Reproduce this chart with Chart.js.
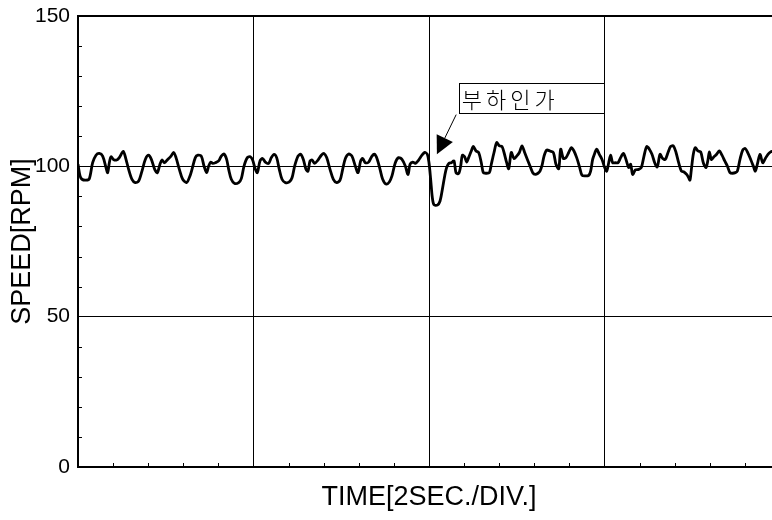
<!DOCTYPE html>
<html>
<head>
<meta charset="utf-8">
<script src="https://cdn.jsdelivr.net/npm/chart.js@4.4.1/dist/chart.umd.min.js"></script>
<style>
  html, body { margin: 0; padding: 0; background: #fff; width: 772px; height: 520px; overflow: hidden; }
  #wrap { width: 800px; height: 520px; }
</style>
</head>
<body>
<div id="wrap"><canvas id="c" width="800" height="520"></canvas></div>
<script>
// Motor speed record: time in seconds, speed in RPM
const timeSec = [
  0.000, 0.023, 0.045, 0.091, 0.129, 0.167, 0.205, 0.243, 0.281, 0.319, 0.338, 0.357, 0.376, 0.403, 0.441, 0.471,
  0.516, 0.547, 0.577, 0.615, 0.653, 0.691, 0.729, 0.767, 0.805, 0.836, 0.874, 0.904, 0.934, 0.957, 0.984, 1.022,
  1.060, 1.090, 1.117, 1.155, 1.193, 1.238, 1.276,
  1.299, 1.337, 1.367, 1.405, 1.436, 1.466, 1.489, 1.512, 1.535, 1.565, 1.603, 1.633, 1.664, 1.694, 1.717, 1.747,
  1.785, 1.831, 1.861, 1.892, 1.930, 1.964, 1.990, 2.021, 2.044, 2.074, 2.104, 2.135, 2.173, 2.203, 2.234, 2.264,
  2.294, 2.325, 2.363, 2.408, 2.439, 2.469, 2.507, 2.537, 2.568, 2.598,
  2.621, 2.644, 2.667, 2.697, 2.735, 2.773, 2.803, 2.834, 2.872, 2.910, 2.948, 2.986, 3.016, 3.047, 3.084, 3.122,
  3.160, 3.191, 3.221, 3.244, 3.274, 3.312, 3.350, 3.381, 3.411, 3.442, 3.472, 3.510, 3.548, 3.578, 3.616, 3.654,
  3.692, 3.730, 3.761, 3.784, 3.814, 3.844, 3.882, 3.920, 3.951,
  3.981, 4.000, 4.019, 4.038, 4.057, 4.095, 4.125, 4.152, 4.179, 4.201, 4.228, 4.255, 4.285, 4.308, 4.338, 4.361,
  4.380, 4.406, 4.429, 4.452, 4.482, 4.505, 4.536, 4.566, 4.596, 4.619, 4.650, 4.688, 4.710, 4.741, 4.771, 4.802,
  4.832, 4.855, 4.885, 4.908, 4.938, 4.969, 4.999, 5.030, 5.060, 5.090, 5.121, 5.151, 5.182, 5.212, 5.242,
  5.265, 5.288, 5.311, 5.341, 5.379, 5.417, 5.447, 5.478, 5.501, 5.531, 5.561, 5.592, 5.622, 5.652, 5.683, 5.713,
  5.744, 5.782, 5.820, 5.842, 5.865, 5.888, 5.911, 5.941, 5.972, 6.002, 6.025, 6.048, 6.070, 6.093, 6.124, 6.154,
  6.184, 6.215, 6.245, 6.275, 6.298, 6.321, 6.352, 6.390, 6.420, 6.450, 6.481, 6.511, 6.541, 6.572, 6.598,
  6.610, 6.633, 6.663, 6.693, 6.724, 6.754, 6.785, 6.815, 6.845, 6.876, 6.906, 6.936, 6.959, 6.974, 6.990, 7.012,
  7.035, 7.066, 7.096, 7.126, 7.157, 7.180, 7.195, 7.218, 7.248, 7.278, 7.309, 7.339, 7.370, 7.400, 7.430, 7.461,
  7.491, 7.514, 7.544, 7.575, 7.605, 7.636, 7.666, 7.696, 7.719, 7.742, 7.772, 7.803, 7.833, 7.863, 7.894, 7.917
];
const speedRpm = [
  100.7, 96.8, 95.7, 95.4, 95.9, 101.2, 103.7, 104.3, 103.4, 99.6, 97.9, 101.2, 103.2, 102.3, 102.1, 102.9,
  105.0, 102.3, 99.0, 95.7, 94.6, 95.1, 98.4, 102.3, 103.7, 102.3, 99.0, 97.9, 100.7, 102.1, 101.2, 102.3,
  103.4, 104.6, 102.9, 99.0, 95.7, 94.6, 96.8,
  99.0, 102.9, 103.7, 103.4, 100.1, 97.9, 100.1, 101.4, 101.0, 101.2, 101.8, 103.4, 104.1, 102.3, 99.0, 95.7,
  94.3, 94.6, 95.9, 100.1, 102.9, 103.2, 102.1, 99.0, 97.9, 101.8, 102.6, 101.4, 101.0, 102.9, 104.0, 102.9,
  99.0, 95.7, 94.6, 94.8, 96.2, 100.1, 103.4, 104.0, 102.3, 99.0,
  98.4, 101.8, 102.1, 101.0, 102.1, 103.7, 104.3, 102.9, 99.0, 95.7, 94.6, 95.4, 99.0, 102.6, 104.1, 103.4,
  100.1, 97.9, 101.8, 102.6, 101.2, 101.4, 103.4, 104.0, 102.3, 99.0, 95.7, 94.1, 94.8, 96.8, 101.2, 102.9,
  102.3, 100.1, 97.3, 100.7, 101.4, 101.0, 102.1, 103.7, 104.6,
  104.0, 101.2, 95.7, 89.6, 87.2, 87.1, 88.4, 92.3, 96.8, 99.6, 101.0, 101.2, 101.8, 97.9, 97.6, 100.1,
  103.7, 103.2, 101.4, 102.9, 105.1, 106.6, 105.1, 104.6, 101.2, 97.9, 97.7, 97.9, 100.7, 104.6, 107.9, 106.8,
  106.6, 104.6, 101.2, 99.2, 104.6, 102.6, 103.4, 104.6, 106.8, 104.6, 102.3, 100.1, 97.9, 97.3, 97.7,
  98.4, 100.3, 103.4, 105.4, 105.1, 104.6, 100.7, 99.2, 105.7, 102.6, 102.9, 104.6, 106.2, 105.1, 102.9, 100.1,
  97.0, 96.8, 97.0, 98.4, 102.3, 104.3, 105.7, 104.0, 102.3, 99.6, 98.4, 101.2, 103.7, 101.2, 101.2, 101.2,
  102.9, 104.3, 102.3, 99.6, 100.7, 97.3, 98.8, 99.0, 99.6, 103.4, 106.6, 105.7, 104.0, 101.2, 99.8,
  100.7, 104.0, 102.6, 102.3, 104.6, 106.6, 106.8, 104.6, 101.2, 98.4, 98.1, 97.3, 96.2, 95.4, 99.0, 104.0,
  106.2, 105.1, 104.8, 101.2, 99.6, 102.3, 104.8, 102.3, 103.2, 104.0, 105.1, 103.7, 101.8, 100.1, 97.9, 97.7,
  97.9, 98.4, 102.3, 105.4, 105.9, 104.3, 102.3, 100.1, 98.4, 100.7, 104.0, 101.2, 102.6, 104.0, 104.8, 105.0
];

// Axis layout: major divisions and minor tick spacing
const yMajorTicks = [0, 50, 100, 150];
const xMajorTicks = [0, 2, 4, 6, 8];
const yMinorStep = 10;
const xMinorStep = 0.4;

const yAxisTitle = 'SPEED[RPM]';
const xAxisTitle = 'TIME[2SEC./DIV.]';
const noteText = '부하인가';

// Callout box and arrow, in data units
const note = {
  boxLeft: 4.34, boxRight: 5.99, boxTop: 127.6, boxBottom: 117.6,
  tailX: 4.31, tailY: 117.2, tipX: 4.09, tipY: 104.0
};

const points = timeSec.map((t, i) => ({ x: t, y: speedRpm[i] }));

const framePlugin = {
  id: 'frame',
  afterDraw(chart) {
    const { ctx, chartArea: a, scales: { x, y } } = chart;
    ctx.save();
    ctx.strokeStyle = '#000';
    // top edge of the plot frame
    ctx.lineWidth = 2;
    ctx.beginPath();
    ctx.moveTo(a.left - 1, a.top);
    ctx.lineTo(a.right, a.top);
    ctx.stroke();

    // inward minor ticks on the left and bottom edges
    ctx.lineWidth = 1;
    ctx.beginPath();
    for (let v = yMinorStep; v < y.max; v += yMinorStep) {
      if (Math.abs(v % 50) < 1e-6) continue;
      const py = Math.round(y.getPixelForValue(v)) + 0.5;
      ctx.moveTo(a.left, py);
      ctx.lineTo(a.left + 4, py);
    }
    for (let i = 1; i * xMinorStep < x.max - 1e-6; i++) {
      const t = i * xMinorStep;
      if (i % 5 === 0) continue;
      const px = Math.round(x.getPixelForValue(t)) + 0.5;
      ctx.moveTo(px, a.bottom);
      ctx.lineTo(px, a.bottom - 4);
    }
    ctx.stroke();

    // callout box with label
    const bl = x.getPixelForValue(note.boxLeft), br = x.getPixelForValue(note.boxRight);
    const bt = y.getPixelForValue(note.boxTop), bb = y.getPixelForValue(note.boxBottom);
    ctx.lineWidth = 1;
    ctx.strokeRect(Math.round(bl) + 0.5, Math.round(bt) + 0.5, Math.round(br - bl), Math.round(bb - bt));
    ctx.fillStyle = '#000';
    ctx.font = '300 22px "Noto Sans CJK KR"';
    ctx.letterSpacing = '4px';
    ctx.textBaseline = 'middle';
    ctx.textAlign = 'left';
    ctx.fillText(noteText, bl + 3, (bt + bb) / 2 + 1);
    ctx.letterSpacing = '0px';

    // arrow from the box to the curve
    const tx = x.getPixelForValue(note.tailX), ty = y.getPixelForValue(note.tailY);
    const hx = x.getPixelForValue(note.tipX), hy = y.getPixelForValue(note.tipY);
    const ang = Math.atan2(hy - ty, hx - tx);
    const headLen = 18, headHalf = 9;
    const baseX = hx - headLen * Math.cos(ang), baseY = hy - headLen * Math.sin(ang);
    ctx.lineWidth = 1;
    ctx.beginPath();
    ctx.moveTo(tx, ty);
    ctx.lineTo(baseX, baseY);
    ctx.stroke();
    ctx.beginPath();
    ctx.moveTo(hx, hy);
    ctx.lineTo(baseX + headHalf * Math.sin(ang), baseY - headHalf * Math.cos(ang));
    ctx.lineTo(baseX - headHalf * Math.sin(ang), baseY + headHalf * Math.cos(ang));
    ctx.closePath();
    ctx.fill();
    ctx.restore();
  }
};

new Chart(document.getElementById('c'), {
  type: 'line',
  data: {
    datasets: [{
      data: points,
      borderColor: '#000',
      borderWidth: 2.8,
      pointRadius: 0,
      tension: 0.3,
      fill: false
    }]
  },
  options: {
    responsive: false,
    animation: false,
    devicePixelRatio: 1,
    layout: { padding: { left: 0, top: 16, right: 20, bottom: 0 } },
    plugins: { legend: { display: false }, tooltip: { enabled: false } },
    scales: {
      x: {
        type: 'linear',
        min: 0,
        max: 8,
        afterBuildTicks: s => { s.ticks = xMajorTicks.map(v => ({ value: v })); },
        afterFit: s => { s.height = 53; },
        ticks: { display: false },
        grid: { color: '#000', lineWidth: 1, drawTicks: false },
        border: { display: true, color: '#000', width: 2 },
        title: {
          display: true,
          text: xAxisTitle,
          color: '#000',
          font: { family: '"Liberation Sans", Arial, sans-serif', size: 27 },
          padding: { top: 0, bottom: 6 }
        }
      },
      y: {
        min: 0,
        max: 150,
        afterBuildTicks: s => { s.ticks = yMajorTicks.map(v => ({ value: v })); },
        afterFit: s => { s.width = 78; s.paddingTop = 0; s.paddingBottom = 0; },
        ticks: {
          color: '#000',
          padding: 8,
          font: { family: '"Liberation Sans", Arial, sans-serif', size: 21 }
        },
        grid: { color: '#000', lineWidth: 1, drawTicks: false },
        border: { display: true, color: '#000', width: 2 },
        title: {
          display: true,
          text: yAxisTitle,
          color: '#000',
          font: { family: '"Liberation Sans", Arial, sans-serif', size: 27 },
          padding: { top: 6, bottom: 0 }
        }
      }
    }
  },
  plugins: [framePlugin]
});
</script>
</body>
</html>
